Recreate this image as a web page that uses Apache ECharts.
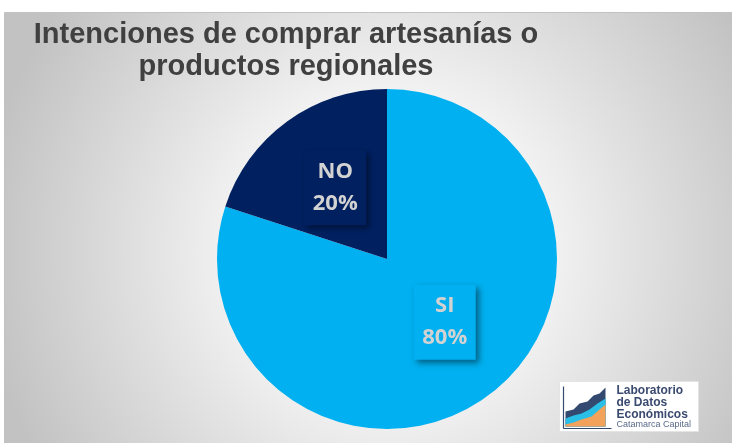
<!DOCTYPE html>
<html>
<head>
<meta charset="utf-8">
<script src="https://cdn.jsdelivr.net/npm/echarts@6/dist/echarts.min.js"></script>
<style>
  html, body { margin: 0; padding: 0; background: #fff; }
  #chart { width: 732px; height: 443px; }
</style>
</head>
<body>
<div id="chart"></div>
<script>
const categories = ['SI', 'NO']
const values = [80, 20]

const sliceColors = ['#00B0F0', '#002060']
const labelColor = '#d2d2d2'

const chart = echarts.init(document.getElementById('chart'))

// small logo in the lower right corner
const logo = {
  type: 'group',
  left: 559,
  top: 381,
  children: [
    { type: 'rect', shape: { x: 0, y: 0, width: 139, height: 50 }, style: { fill: '#ffffff', stroke: '#e4e4e4', lineWidth: 1 } },
    { type: 'polygon', shape: { points: [[6, 30], [14, 28], [20, 22], [28, 20], [34, 14], [40, 12], [46, 6], [46, 45], [6, 45]] }, style: { fill: '#33496f' } },
    { type: 'polygon', shape: { points: [[6, 37], [14, 34], [22, 32], [30, 28], [38, 22], [46, 17], [46, 45], [6, 45]] }, style: { fill: '#29bfe6' } },
    { type: 'polygon', shape: { points: [[6, 43], [14, 41], [22, 38], [32, 35], [40, 28], [46, 23], [46, 45], [6, 45]] }, style: { fill: '#f2a25a' } },
    { type: 'line', shape: { x1: 4, y1: 5, x2: 4, y2: 47 }, style: { stroke: '#33496f', lineWidth: 1.2 } },
    { type: 'line', shape: { x1: 4, y1: 47, x2: 52, y2: 47 }, style: { stroke: '#33496f', lineWidth: 1.2 } },
    { type: 'text', x: 57, y: 3, style: { text: 'Laboratorio\nde Datos\nEconómicos', font: 'bold 12px "Liberation Sans", Arial', fill: '#3b4a70', lineHeight: 12 } },
    { type: 'text', x: 57, y: 39, style: { text: 'Catamarca Capital', font: '9px "Liberation Sans Narrow", "Liberation Sans", Arial', fill: '#5a6a8a' } }
  ]
}

const labelOffsets = [[6, -8], [0, 0]]

const option = {
  backgroundColor: '#ffffff',
  title: {
    text: 'Intenciones de comprar artesanías o\nproductos regionales',
    left: 281,
    top: 14,
    textAlign: 'center',
    textStyle: {
      fontFamily: '"Liberation Sans", Arial',
      fontWeight: 'bold',
      fontSize: 29,
      lineHeight: 32,
      color: '#404040'
    }
  },
  graphic: [
    {
      type: 'rect',
      z: -10,
      silent: true,
      shape: { x: 4.5, y: 12.5, width: 728, height: 431 },
      style: {
        stroke: '#c2c2c2',
        lineWidth: 1,
        fill: {
          type: 'radial',
          x: 0.53,
          y: 0.55,
          r: 0.95,
          colorStops: [
            { offset: 0, color: '#ffffff' },
            { offset: 0.4, color: '#f1f1f1' },
            { offset: 1, color: '#c2c2c2' }
          ]
        }
      }
    },
    logo
  ],
  series: [
    {
      type: 'pie',
      center: [387, 259],
      radius: 170,
      startAngle: 90,
      clockwise: true,
      silent: true,
      data: categories.map((name, i) => ({
        name,
        value: values[i],
        itemStyle: { color: sliceColors[i] },
        label: { backgroundColor: sliceColors[i], offset: labelOffsets[i] }
      })),
      label: {
        show: true,
        position: 'inside',
        formatter: '{b}\n{d}%',
        fontFamily: '"Open Sans", "Noto Sans", sans-serif',
        fontWeight: 'bold',
        fontSize: 22,
        lineHeight: 32,
        color: labelColor,
        width: 48,
        align: 'center',
        padding: [6, 7, 5, 7],
        shadowBlur: 6,
        shadowOffsetX: 3,
        shadowOffsetY: 3,
        shadowColor: 'rgba(0,0,0,0.45)'
      },
      labelLine: { show: false }
    }
  ]
}

chart.setOption(option)
</script>
</body>
</html>
